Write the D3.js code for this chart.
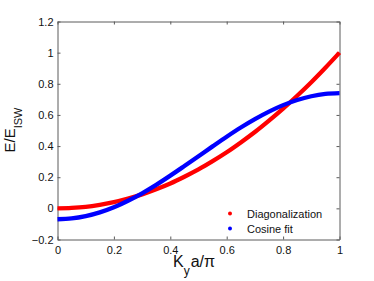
<!DOCTYPE html>
<html>
<head>
<meta charset="utf-8">
<script src="https://cdn.jsdelivr.net/npm/d3@7"></script>
<style>
  body { margin: 0; background: #fff; }
  svg { display: block; font-family: "Liberation Sans", Arial, sans-serif; }
</style>
</head>
<body>
<script>
// values
var kx = [0, 0.05, 0.1, 0.15, 0.2, 0.25, 0.3, 0.35, 0.4, 0.45, 0.5,
          0.55, 0.6, 0.65, 0.7, 0.75, 0.8, 0.85, 0.9, 0.95, 1];
var diag = [0, 0.003, 0.01, 0.023, 0.04, 0.063, 0.09, 0.123, 0.16, 0.203, 0.25,
            0.303, 0.36, 0.423, 0.49, 0.563, 0.64, 0.723, 0.81, 0.903, 1.0];
var cosfit = [-0.07, -0.065, -0.05, -0.026, 0.007, 0.049, 0.097, 0.151, 0.21, 0.272, 0.335,
              0.398, 0.46, 0.519, 0.573, 0.621, 0.663, 0.696, 0.72, 0.735, 0.74];
var xticks = [0, 0.2, 0.4, 0.6, 0.8, 1];
var yticks = [-0.2, 0, 0.2, 0.4, 0.6, 0.8, 1, 1.2];
var seriesNames = ["Diagonalization", "Cosine fit"];
var seriesColors = ["#ff0000", "#0000ff"];

var W = 374, H = 281;
var mLeft = 57.5, mRight = 339.5, mTop = 21.5, mBottom = 239.5;

var x = d3.scaleLinear().domain([0, 1]).range([mLeft, mRight]);
var y = d3.scaleLinear().domain([-0.2, 1.2]).range([mBottom, mTop]);

var svg = d3.select("body").append("svg")
    .attr("width", W)
    .attr("height", H);

var axisColor = "#5a5a5a";

// axes (ticks point inward, like matlab)
var gx = svg.append("g").attr("transform", `translate(0,${mBottom})`)
    .call(d3.axisBottom(x).tickValues(xticks).tickSizeInner(-3).tickSizeOuter(0)
      .tickPadding(7).tickFormat(d3.format("")));
var gxt = svg.append("g").attr("transform", `translate(0,${mTop})`)
    .call(d3.axisTop(x).tickValues(xticks).tickSizeInner(-3).tickSizeOuter(0).tickFormat(""));
var gy = svg.append("g").attr("transform", `translate(${mLeft},0)`)
    .call(d3.axisLeft(y).tickValues(yticks).tickSizeInner(-3).tickSizeOuter(0)
      .tickPadding(4).tickFormat(d => d3.format("")(+d.toFixed(1)).replace("-", "\u2212")));
var gyr = svg.append("g").attr("transform", `translate(${mRight},0)`)
    .call(d3.axisRight(y).tickValues(yticks).tickSizeInner(-3).tickSizeOuter(0).tickFormat(""));

[gx, gxt, gy, gyr].forEach(function(g) {
  g.select(".domain").attr("stroke", axisColor);
  g.selectAll(".tick line").attr("stroke", axisColor);
  g.selectAll("text").attr("fill", "#111").attr("font-size", 11)
    .attr("font-family", "Liberation Sans, Arial, sans-serif");
});

var line = d3.line()
    .x((d, i) => x(kx[i]))
    .y(d => y(d))
    .curve(d3.curveCatmullRom);

[diag, cosfit].forEach(function(s, i) {
  svg.append("path")
      .datum(s)
      .attr("fill", "none")
      .attr("stroke", seriesColors[i])
      .attr("stroke-width", 4.3)
      .attr("d", line);
});

// legend
var leg = svg.append("g");
seriesNames.forEach(function(n, i) {
  leg.append("circle")
      .attr("cx", 230)
      .attr("cy", 213.5 + i * 15)
      .attr("r", 2)
      .attr("fill", seriesColors[i]);
  leg.append("text")
      .attr("x", 247)
      .attr("y", 217.5 + i * 15)
      .attr("font-size", 11)
      .attr("fill", "#111")
      .text(n);
});

// axis labels
var xl = svg.append("text")
    .attr("x", 173)
    .attr("y", 267)
    .attr("font-size", 16)
    .attr("fill", "#111");
xl.append("tspan").text("K");
xl.append("tspan").attr("dy", 8).attr("font-size", 12).text("y");
xl.append("tspan").attr("dy", -8).attr("dx", 1).text("a/\u03c0");

var yl = svg.append("text")
    .attr("transform", "translate(14.5,130) rotate(-90)")
    .attr("text-anchor", "middle")
    .attr("font-size", 15)
    .attr("fill", "#111");
yl.append("tspan").text("E/E");
yl.append("tspan").attr("dy", 7).attr("font-size", 11).text("ISW");
</script>
</body>
</html>
